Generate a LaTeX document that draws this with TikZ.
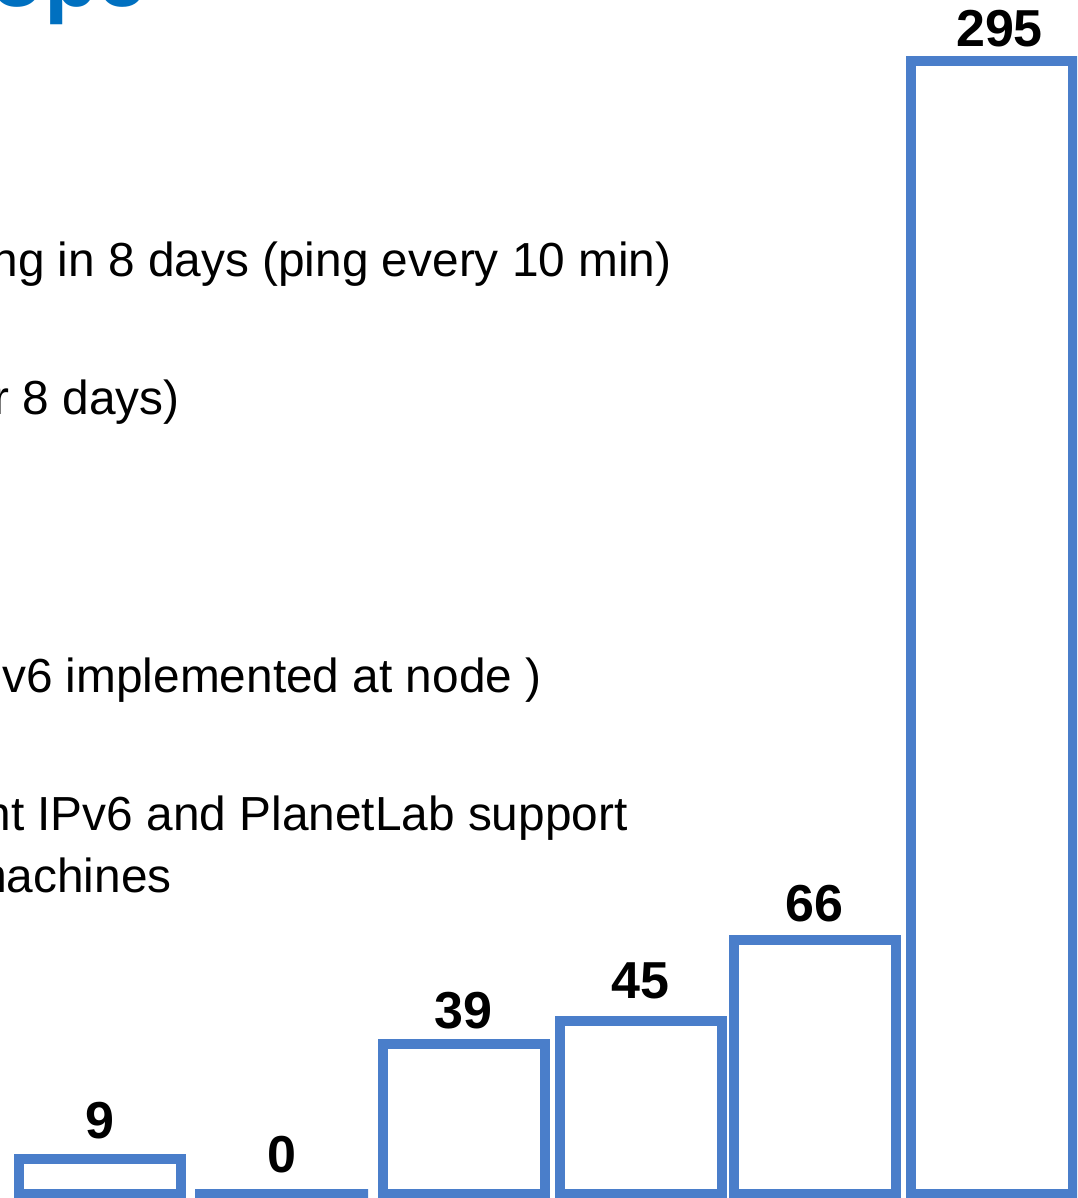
\documentclass[tikz,border=0pt]{standalone}
\usepackage{fontspec}
\setmainfont{Liberation Sans}
\usetikzlibrary{positioning}
\definecolor{barblue}{RGB}{74,126,202}
\definecolor{titleblue}{RGB}{0,112,192}

\begin{document}
\begin{tikzpicture}[x=0.5pt,y=-0.5pt,
  bar/.style={rectangle,draw=barblue,line width=5pt,minimum width=81pt,
  inner sep=0pt,anchor=south},
  num/.style={font=\fontsize{26}{26}\selectfont\bfseries,inner sep=0pt},
  body/.style={font=\fontsize{23.9}{24}\selectfont,inner sep=0pt,
  anchor=base east},
  title/.style={font=\fontsize{44}{44}\selectfont\bfseries,
  text=titleblue,inner sep=0pt,anchor=base west}]

  \useasboundingbox (0,0) rectangle (1077,1198);
  \clip (0,0) rectangle (1077,1198);

  % slide title, only its lower edge is left in the picture
  \node[title] (ttl) at (-10,7) {ope};

  \node[body] (l1) at (672,277) {ng in 8 days (ping every 10 min)};
  \node[body] (l2) at (180,414) {r 8 days)};
  \node[body] (l3) at (542,692) {v6 implemented at node )};
  \node[body] (l4) at (628,830) {nt IPv6 and PlanetLab support};
  \node[body] (l5) at (172,892) {machines};

  % zero bar is a flat line, widened to the same outer size
  \node[bar,minimum height=17.28pt] (b9) at (100,1198.5) {};
  \node[bar,minimum height=0pt,minimum width=86.5pt] (b0) at (281.5,1198.5) {};
  \node[bar,minimum height=74.88pt] (b39) at (463.5,1198.5) {};
  \node[bar,minimum height=86.4pt] (b45) at (640.5,1198.5) {};
  \node[bar,minimum height=126.72pt] (b66) at (814.5,1198.5) {};
  \node[bar,minimum height=566.4pt] (b295) at (991.5,1198.5) {};

  \node[num] (n9) [above=7.5pt of b9] {9};
  \node[num] (n0) [above=7.5pt of b0] {0};
  \node[num] (n39) [above=4.5pt of b39] {39};
  \node[num] (n45) [above=8pt of b45] {45};
  \node[num] (n66) [above=6.5pt of b66] {66};
  \node[num] (n295) [above=4pt of b295,xshift=4pt] {295};

\end{tikzpicture}
\end{document}
